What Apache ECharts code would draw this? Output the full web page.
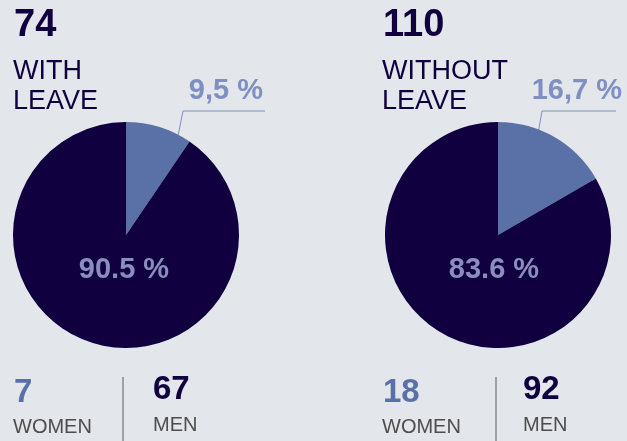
<!DOCTYPE html>
<html><head><meta charset="utf-8">
<script src="https://cdn.jsdelivr.net/npm/echarts@6/dist/echarts.min.js"></script>
<style>html,body{margin:0;padding:0;background:#e3e6eb;}#c{width:627px;height:441px;}</style>
</head><body><div id="c"></div>
<script>
// ---- data ----
const categories = ['WOMEN', 'MEN'];
const groupTitleLines = [['WITH', 'LEAVE'], ['WITHOUT', 'LEAVE']];
const totals = [74, 110];
const womenCounts = [7, 18];
const menCounts = [67, 92];
const womenPct = [9.5, 16.7];
const menPct = [90.5, 83.6];

// ---- styling / layout ----
const DARK = '#10003f', LIGHT = '#5a71a8', LABEL_LIGHT = '#7f8fc2', INNER = '#8a8dbd', GREY = '#4d4d4d';
const FONT = '"Liberation Sans", Arial, sans-serif';
const R = 113;
const centers = [[126, 235], [498, 235]];
const colX = [[14, 153], [383, 523]];
const dividerX = [123, 496];
const lineGeom = [
  {pts: [[51, -94], [57, -124], [139, -124]], label: [137, -144]},
  {pts: [[39, -95], [44, -124], [118, -124]], label: [124, -144]}
];
const innerOffset = [[-2, 35], [-4, 35]];

function fmtComma(v) { return String(v).replace('.', ',') + ' %'; }
function fmtDot(v) { return v.toFixed(1) + ' %'; }

const series = centers.map((c, i) => ({
  type: 'pie',
  center: c,
  radius: R,
  startAngle: 90,
  clockwise: true,
  avoidLabelOverlap: false,
  silent: true,
  animation: false,
  data: [
    {name: categories[0], value: womenPct[i], itemStyle: {color: LIGHT},
     label: {show: true, position: 'outside', formatter: fmtComma(womenPct[i]), color: LABEL_LIGHT,
             fontSize: 29, fontWeight: 'bold', fontFamily: FONT},
     labelLine: {show: true, length: 20, length2: 60, lineStyle: {color: LABEL_LIGHT, width: 1}}},
    {name: categories[1], value: menPct[i], itemStyle: {color: DARK},
     label: {show: true, position: 'inside', formatter: fmtDot(menPct[i]), color: INNER,
             fontSize: 29, fontWeight: 'bold', fontFamily: FONT},
     labelLine: {show: false}}
  ],
  labelLayout: function (p) {
    const cc = centers[i];
    if (p.dataIndex === 0) {
      const g = lineGeom[i];
      return {
        x: cc[0] + g.label[0], y: cc[1] + g.label[1], align: 'right', verticalAlign: 'middle',
        labelLinePoints: g.pts.map(q => [cc[0] + q[0], cc[1] + q[1]])
      };
    }
    return {x: cc[0] + innerOffset[i][0], y: cc[1] + innerOffset[i][1], align: 'center', verticalAlign: 'middle'};
  }
}));

const graphic = [];
for (let i = 0; i < 2; i++) {
  const x0 = colX[i][0], x1 = colX[i][1];
  graphic.push({type: 'text', x: x0, y: 25.5, style: {text: String(totals[i]), fill: DARK,
    font: 'bold 38px ' + FONT, textVerticalAlign: 'middle'}});
  groupTitleLines[i].forEach((t, k) => graphic.push({type: 'text', x: x0 - 1, y: 72 + 30 * k,
    style: {text: t, fill: DARK, font: '27px ' + FONT, textVerticalAlign: 'middle'}}));
  graphic.push({type: 'text', x: x0, y: 393, style: {text: String(womenCounts[i]), fill: LIGHT,
    font: 'bold 33px ' + FONT, textVerticalAlign: 'middle'}});
  graphic.push({type: 'text', x: x0 - 1, y: 427.5, style: {text: categories[0], fill: GREY,
    font: '20px ' + FONT, textVerticalAlign: 'middle'}});
  graphic.push({type: 'text', x: x1, y: 389.5, style: {text: String(menCounts[i]), fill: DARK,
    font: 'bold 33px ' + FONT, textVerticalAlign: 'middle'}});
  graphic.push({type: 'text', x: x1, y: 425.5, style: {text: categories[1], fill: GREY,
    font: '20px ' + FONT, textVerticalAlign: 'middle'}});
  graphic.push({type: 'line', shape: {x1: dividerX[i], y1: 377, x2: dividerX[i], y2: 441},
    style: {stroke: '#8a8a8a', lineWidth: 1.5}});
}

const chart = echarts.init(document.getElementById('c'), null, {renderer: 'canvas'});
chart.setOption({
  backgroundColor: '#e3e6eb',
  animation: false,
  series: series,
  graphic: graphic
});
</script>
</body></html>
